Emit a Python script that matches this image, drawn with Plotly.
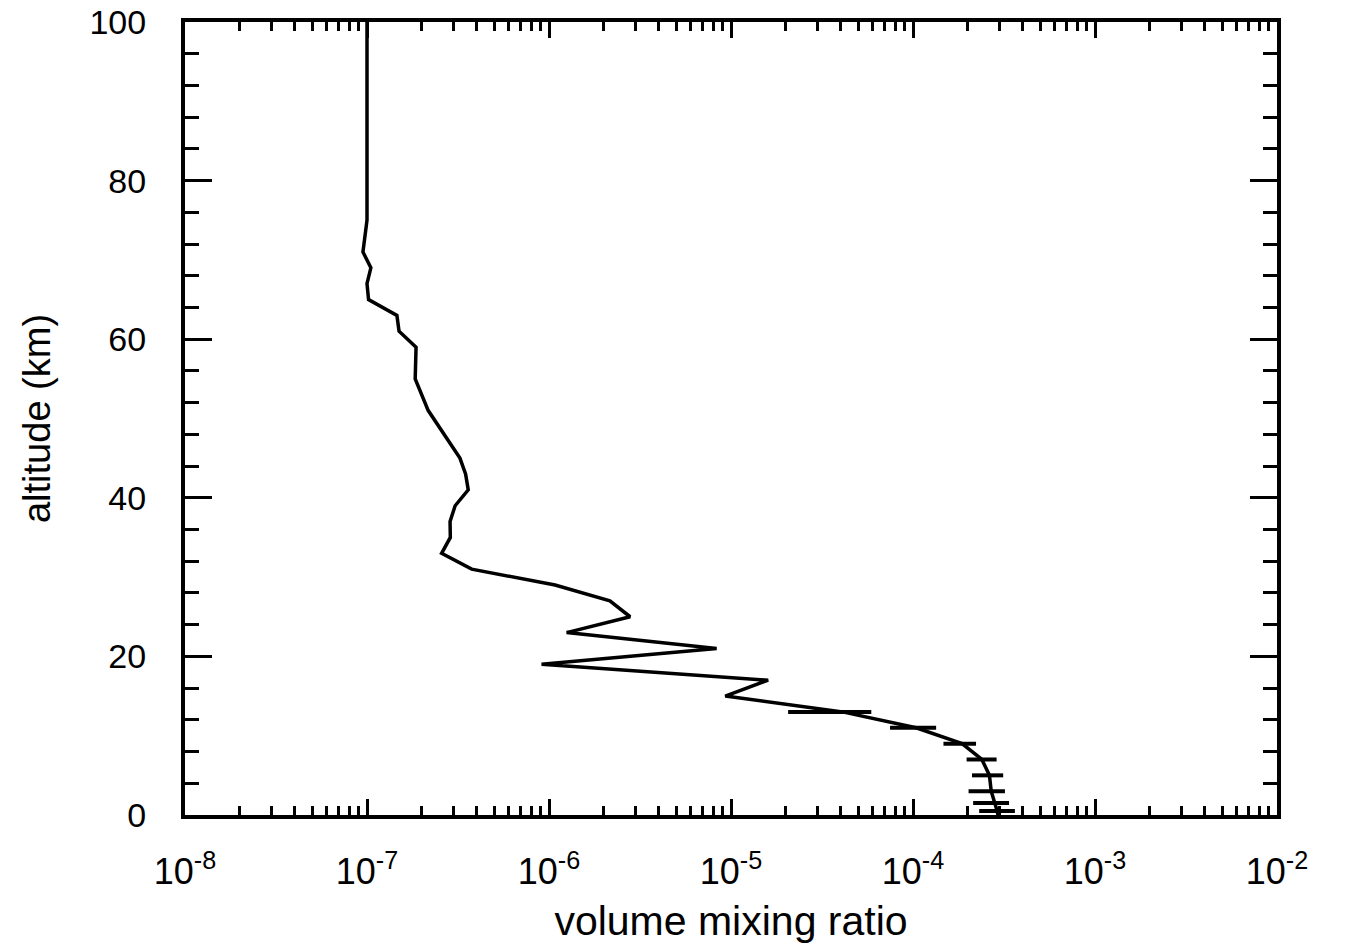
import plotly.graph_objects as go

# Profile: altitude (km) vs volume mixing ratio
alt = [100, 75, 71, 69, 67, 65, 63, 61, 59, 55, 51, 45, 43, 41, 39, 37, 35, 33,
       31, 29, 27, 25, 23, 21, 19, 17, 15, 13, 11, 9, 7, 5, 3, 1.5, 0.5, 0]
vmr = [1.0e-7, 1.0e-7, 9.5e-8, 1.05e-7, 1.0e-7, 1.02e-7, 1.46e-7, 1.5e-7, 1.86e-7,
       1.84e-7, 2.17e-7, 3.24e-7, 3.48e-7, 3.60e-7, 3.05e-7, 2.86e-7, 2.87e-7,
       2.57e-7, 3.76e-7, 1.08e-6, 2.16e-6, 2.79e-6, 1.25e-6, 8.34e-6, 9.1e-7,
       1.60e-5, 9.3e-6, 4.1e-5, 1.04e-4, 1.86e-4, 2.39e-4, 2.63e-4, 2.69e-4,
       2.83e-4, 2.90e-4, 2.93e-4]

# Horizontal error bars (lower / upper bounds)
err_alt = [13, 11, 9, 7, 5, 3, 1.5, 0.5]
err_lo = [2.06e-5, 7.48e-5, 1.47e-4, 1.97e-4, 2.11e-4, 2.02e-4, 2.14e-4, 2.31e-4]
err_hi = [5.9e-5, 1.34e-4, 2.22e-4, 2.88e-4, 3.13e-4, 3.20e-4, 3.37e-4, 3.63e-4]

x_tickvals = [1e-8, 1e-7, 1e-6, 1e-5, 1e-4, 1e-3, 1e-2]
x_ticktext = ["10<sup>-8</sup>", "10<sup>-7</sup>", "10<sup>-6</sup>", "10<sup>-5</sup>",
              "10<sup>-4</sup>", "10<sup>-3</sup>", "10<sup>-2</sup>"]
y_tickvals = [0, 20, 40, 60, 80, 100]

err_mid = [(lo + hi) / 2 for lo, hi in zip(err_lo, err_hi)]
err_half = [(hi - lo) / 2 for lo, hi in zip(err_lo, err_hi)]

FONT = "Liberation Sans, Arial, sans-serif"

fig = go.Figure()
fig.add_trace(go.Scatter(
    x=err_mid, y=err_alt, mode="markers",
    marker=dict(size=1, color="black"),
    error_x=dict(type="data", array=err_half, visible=True, width=0,
                 thickness=4, color="black"),
    showlegend=False, hoverinfo="skip"))
fig.add_trace(go.Scatter(
    x=vmr, y=alt, mode="lines", line=dict(color="black", width=3.5),
    showlegend=False))

fig.update_layout(
    width=1348, height=944,
    margin=dict(l=185, r=71, t=22, b=129),
    paper_bgcolor="white", plot_bgcolor="white",
    font=dict(family=FONT, color="black"),
)
fig.update_xaxes(
    type="log", range=[-8, -2], automargin=False,
    tickvals=x_tickvals, ticktext=x_ticktext,
    tickfont=dict(size=36, family=FONT),
    ticks="inside", ticklen=16, tickwidth=3, tickcolor="black",
    minor=dict(ticks="inside", ticklen=9, tickwidth=3, tickcolor="black", dtick="D1"),
    showline=True, linewidth=4, linecolor="black", mirror="ticks",
    showgrid=False, zeroline=False,
    ticklabelstandoff=22,
    title=dict(text="volume mixing ratio", font=dict(size=41, family=FONT), standoff=26),
)
fig.update_yaxes(
    range=[0, 100], automargin=False,
    tickvals=y_tickvals,
    tickfont=dict(size=34, family=FONT),
    ticks="inside", ticklen=27, tickwidth=3, tickcolor="black",
    minor=dict(ticks="inside", ticklen=14, tickwidth=3, tickcolor="black", dtick=4),
    showline=True, linewidth=4, linecolor="black", mirror="ticks",
    showgrid=False, zeroline=False,
    ticklabelstandoff=28,
    title=dict(text="altitude (km)", font=dict(size=38, family=FONT), standoff=28),
)

fig.write_html("out.html")
